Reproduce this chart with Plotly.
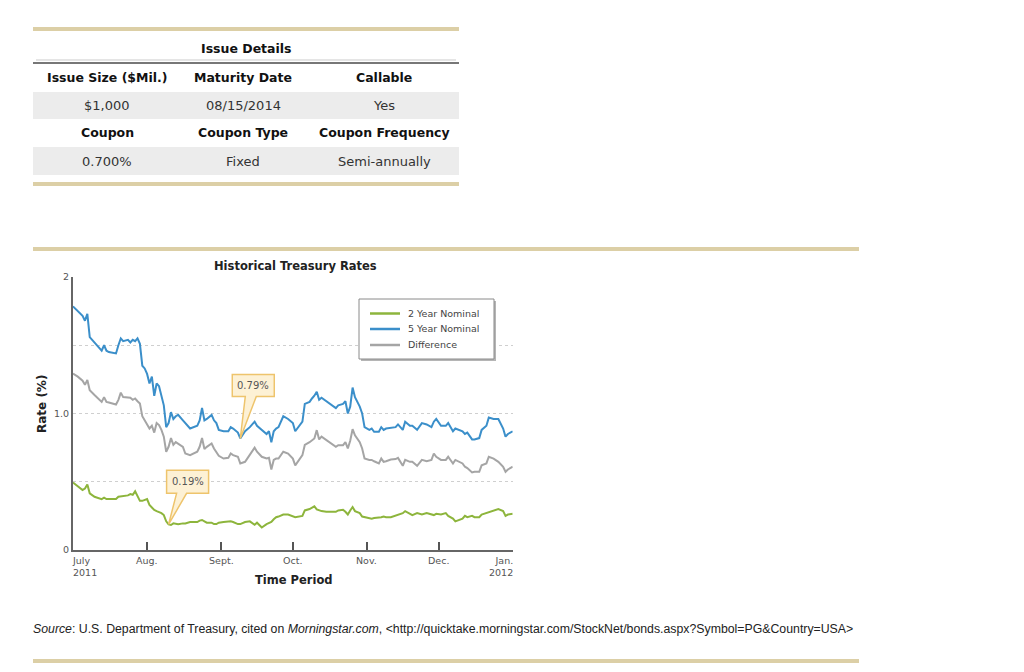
import plotly.graph_objects as go

# ---------------- data ----------------
dates = [
    "2011-07-01", "2011-07-03", "2011-07-05", "2011-07-06", "2011-07-07", "2011-07-08", "2011-07-10",
    "2011-07-13", "2011-07-14", "2011-07-15", "2011-07-16", "2011-07-19", "2011-07-20", "2011-07-21",
    "2011-07-22", "2011-07-24", "2011-07-25", "2011-07-26", "2011-07-27", "2011-07-28", "2011-07-29",
    "2011-07-30", "2011-07-31",
    "2011-08-01", "2011-08-02", "2011-08-03", "2011-08-04", "2011-08-05", "2011-08-06", "2011-08-07",
    "2011-08-08", "2011-08-09", "2011-08-10", "2011-08-11", "2011-08-12", "2011-08-13", "2011-08-14",
    "2011-08-16", "2011-08-17", "2011-08-19", "2011-08-22", "2011-08-23", "2011-08-24", "2011-08-25",
    "2011-08-26", "2011-08-28", "2011-08-29", "2011-08-30", "2011-08-31",
    "2011-09-02", "2011-09-04", "2011-09-05", "2011-09-06", "2011-09-08", "2011-09-09", "2011-09-11",
    "2011-09-13", "2011-09-15", "2011-09-16", "2011-09-18", "2011-09-20", "2011-09-21", "2011-09-22",
    "2011-09-23", "2011-09-24", "2011-09-25", "2011-09-27", "2011-09-29",
    "2011-10-01", "2011-10-02", "2011-10-05", "2011-10-06", "2011-10-08", "2011-10-09", "2011-10-10",
    "2011-10-11", "2011-10-12", "2011-10-13", "2011-10-15", "2011-10-17", "2011-10-19", "2011-10-20",
    "2011-10-22", "2011-10-23", "2011-10-24", "2011-10-25", "2011-10-26", "2011-10-27", "2011-10-29",
    "2011-10-30", "2011-10-31",
    "2011-11-02", "2011-11-03", "2011-11-04", "2011-11-06", "2011-11-07", "2011-11-08", "2011-11-09",
    "2011-11-11", "2011-11-13", "2011-11-14", "2011-11-16", "2011-11-17", "2011-11-19", "2011-11-20",
    "2011-11-22", "2011-11-24", "2011-11-26", "2011-11-28", "2011-11-29", "2011-11-30",
    "2011-12-02", "2011-12-04", "2011-12-05", "2011-12-07", "2011-12-08", "2011-12-11", "2011-12-12",
    "2011-12-13", "2011-12-15", "2011-12-16", "2011-12-18", "2011-12-19", "2011-12-21", "2011-12-22",
    "2011-12-24", "2011-12-26", "2011-12-28", "2011-12-29", "2011-12-30",
    "2012-01-01",
]

two_year = [
    0.495, 0.465, 0.44, 0.45, 0.48, 0.415, 0.39, 0.373, 0.383, 0.373,
    0.373, 0.373, 0.39, 0.393, 0.393, 0.40, 0.41, 0.405, 0.43, 0.40,
    0.36, 0.36, 0.366, 0.373, 0.33, 0.31, 0.293, 0.285, 0.28, 0.27,
    0.256, 0.21, 0.188, 0.183, 0.195, 0.19, 0.188, 0.195,
    0.195, 0.205, 0.205, 0.215, 0.22, 0.21, 0.20, 0.20, 0.19, 0.19,
    0.20, 0.205, 0.21, 0.21, 0.205, 0.19, 0.19, 0.205, 0.21, 0.185,
    0.20, 0.165, 0.19, 0.20, 0.205, 0.225, 0.24, 0.245, 0.26, 0.26, 0.245,
    0.24, 0.25, 0.29, 0.30, 0.31, 0.32, 0.298, 0.29, 0.285, 0.28,
    0.28, 0.28, 0.29, 0.295, 0.28, 0.26, 0.29, 0.315, 0.285, 0.27,
    0.245, 0.24, 0.235, 0.23, 0.235, 0.235, 0.24, 0.245, 0.24, 0.24,
    0.25, 0.255, 0.27,
    0.285, 0.265, 0.256, 0.27, 0.26, 0.27, 0.26, 0.256, 0.265, 0.26,
    0.27, 0.25, 0.23, 0.21, 0.23, 0.25, 0.24, 0.25, 0.24, 0.24,
    0.26, 0.27, 0.28, 0.29, 0.30, 0.285, 0.25, 0.26, 0.265,
]

five_year = [
    1.785, 1.75, 1.715, 1.68, 1.73, 1.56, 1.52, 1.46, 1.50, 1.46,
    1.45, 1.44, 1.50, 1.55, 1.53, 1.54, 1.52, 1.54, 1.53, 1.55,
    1.51, 1.35, 1.33, 1.29, 1.22, 1.27, 1.13, 1.22, 1.20, 1.13,
    1.06, 0.90, 0.93, 1.01, 0.96, 0.98, 0.99, 0.95,
    0.93, 0.89, 0.91, 0.95, 1.04, 0.95, 0.96, 0.99, 0.95, 0.93,
    0.88, 0.87, 0.87, 0.90, 0.89, 0.86, 0.817, 0.87, 0.90, 0.94,
    0.91, 0.88, 0.85, 0.87, 0.79, 0.87, 0.89, 0.90, 0.98, 0.96, 0.93,
    0.87, 0.94, 1.07, 1.085, 1.11, 1.13, 1.16, 1.10, 1.115, 1.09,
    1.066, 1.04, 1.06, 1.07, 1.09, 1.0, 1.05, 1.19, 1.12, 1.05,
    1.0, 0.90, 0.88, 0.89, 0.866, 0.866, 0.90, 0.88, 0.89, 0.895,
    0.90, 0.92, 0.88,
    0.94, 0.91, 0.91, 0.88, 0.93, 0.92, 0.90, 0.94, 0.96, 0.91,
    0.91, 0.93, 0.87, 0.89, 0.87, 0.85, 0.86, 0.81, 0.81, 0.82,
    0.88, 0.91, 0.97, 0.96, 0.96, 0.89, 0.83, 0.85, 0.87,
]

difference = [
    1.293, 1.27, 1.24, 1.21, 1.245, 1.17, 1.135, 1.085, 1.12, 1.085,
    1.08, 1.066, 1.10, 1.153, 1.12, 1.12, 1.115, 1.10, 1.11, 1.09,
    1.073, 0.98, 0.95, 0.93, 0.89, 0.91, 0.86, 0.93, 0.915, 0.88,
    0.83, 0.72, 0.756, 0.82, 0.77, 0.79, 0.78, 0.756,
    0.707, 0.695, 0.72, 0.756, 0.82, 0.74, 0.756, 0.78, 0.744, 0.72,
    0.69, 0.67, 0.675, 0.707, 0.695, 0.683, 0.634, 0.646, 0.695, 0.75,
    0.72, 0.683, 0.67, 0.675, 0.59, 0.66, 0.67, 0.67, 0.72, 0.707, 0.67,
    0.62, 0.695, 0.77, 0.79, 0.805, 0.817, 0.878, 0.81, 0.83, 0.805,
    0.78, 0.756, 0.768, 0.768, 0.79, 0.744, 0.80, 0.885, 0.84, 0.79,
    0.744, 0.67, 0.66, 0.66, 0.65, 0.634, 0.67, 0.646, 0.65, 0.663,
    0.666, 0.675, 0.617,
    0.66, 0.646, 0.646, 0.617, 0.66, 0.65, 0.66, 0.707, 0.683, 0.66,
    0.66, 0.683, 0.634, 0.66, 0.634, 0.61, 0.60, 0.568, 0.573, 0.573,
    0.62, 0.634, 0.683, 0.67, 0.646, 0.61, 0.573, 0.59, 0.61,
]

series_names = ["2 Year Nominal", "5 Year Nominal", "Difference"]

tick_dates = ["2011-07-01", "2011-08-01", "2011-09-01", "2011-10-01",
              "2011-11-01", "2011-12-01", "2012-01-01"]
tick_labels = ["July<br>2011", "Aug.", "Sept.", "Oct.", "Nov.", "Dec.", "Jan.<br>2012"]
y_tick_vals = [0, 0.5, 1.0, 1.5, 2]
y_tick_text = ["0", "", "1.0", "", "2"]

callout_79 = ("2011-09-09", "0.79%")
callout_19 = ("2011-08-10", "0.19%")

table_title = "Issue Details"
table_head_1 = ["Issue Size ($Mil.)", "Maturity Date", "Callable"]
table_vals_1 = ["$1,000", "08/15/2014", "Yes"]
table_head_2 = ["Coupon", "Coupon Type", "Coupon Frequency"]
table_vals_2 = ["0.700%", "Fixed", "Semi-annually"]

chart_title = "Historical Treasury Rates"
x_title = "Time Period"
y_title = "Rate (%)"
source_text = ("<i>Source</i>: U.S. Department of Treasury, cited on <i>Morningstar.com</i>, "
               "&lt;http://quicktake.morningstar.com/StockNet/bonds.aspx?Symbol=PG&amp;Country=USA&gt;")

# ---------------- layout helpers ----------------
W, H = 1024, 672
def px(x):
    return x / W
def py(y):
    return 1 - y / H

FONT = "DejaVu Sans"
TAN = "#dccfa6"
GREEN = "#8db53c"
BLUE = "#3b8fca"
GRAY = "#a5a5a5"
COLORS = [GREEN, BLUE, GRAY]

fig = go.Figure()
fig.add_trace(go.Scatter(x=dates, y=difference, name=series_names[2], mode="lines",
                         line=dict(color=GRAY, width=2), showlegend=False))
fig.add_trace(go.Scatter(x=dates, y=five_year, name=series_names[1], mode="lines",
                         line=dict(color=BLUE, width=2), showlegend=False))
fig.add_trace(go.Scatter(x=dates, y=two_year, name=series_names[0], mode="lines",
                         line=dict(color=GREEN, width=2), showlegend=False))

shapes = []
annotations = []

def rect(x0, y0, x1, y1, color, layer="below", line=None):
    shapes.append(dict(type="rect", xref="paper", yref="paper",
                       x0=px(x0), x1=px(x1), y0=py(y1), y1=py(y0),
                       fillcolor=color, line=line or dict(width=0), layer=layer))

def text(x, y, s, size=13, color="#222", bold=False, xanchor="center", family=FONT, angle=0):
    annotations.append(dict(xref="paper", yref="paper", x=px(x), y=py(y),
                            text=("<b>%s</b>" % s) if bold else s, showarrow=False,
                            xanchor=xanchor, yanchor="middle", textangle=angle,
                            font=dict(family=family, size=size, color=color)))

# ---- table ----
rect(33, 27, 459, 31, TAN)
text(246, 49, table_title, size=12.5, color="#111", bold=True)
rect(36, 59.5, 456, 60.5, "#cccccc")
rect(33, 62, 459, 64, "#777777")
rect(33, 92, 459, 119, "#ececec")
rect(33, 147, 459, 175, "#ececec")
rect(33, 182, 459, 186, TAN)
col_x = [107, 243, 384]
for i in range(3):
    text(col_x[i], 77, table_head_1[i], size=12.5, color="#111", bold=True)
    text(col_x[i], 105, table_vals_1[i], size=13, color="#333")
    text(col_x[i], 133, table_head_2[i], size=12.5, color="#111", bold=True)
    text(col_x[i], 161, table_vals_2[i], size=13, color="#333")

# ---- chart decorations ----
rect(33, 247, 859, 251, TAN)
rect(33, 659, 859, 663, TAN)
text(295, 266, chart_title, size=11.5, color="#222", bold=True)
text(294, 580, x_title, size=11.5, color="#222", bold=True)
text(42, 404, y_title, size=12, color="#222", bold=True, angle=-90)
annotations.append(dict(xref="paper", yref="paper", x=px(31), y=py(629), text=source_text,
                        showarrow=False, xanchor="left", yanchor="middle",
                        font=dict(family="Liberation Sans", size=12.3, color="#222")))

# ---- legend (drawn box) ----
rect(361, 301, 496, 361, "#b5b5b5", layer="above")
rect(359, 299, 494, 359, "white", layer="above", line=dict(color="#8a8a8a", width=1))
leg_y = [313.5, 329, 345]
for i in range(3):
    shapes.append(dict(type="line", xref="paper", yref="paper",
                       x0=px(370), x1=px(400), y0=py(leg_y[i]), y1=py(leg_y[i]),
                       line=dict(color=COLORS[i], width=2.5), layer="above"))
    text(406, leg_y[i], series_names[i], size=9.5, color="#444", xanchor="left")

# x tick labels
for i, (d, lab) in enumerate(zip(tick_dates, tick_labels)):
    anchor = "left" if i == 0 else ("right" if i == len(tick_dates) - 1 else "center")
    shift = -3 if i == 0 else (2 if i == len(tick_dates) - 1 else 0)
    annotations.append(dict(xref="x", yref="y", x=d, y=0, text=lab, showarrow=False,
                            xanchor=anchor, yanchor="top", yshift=-3, xshift=shift, align=anchor,
                            font=dict(family=FONT, size=9.5, color="#555")))

# callouts
def callout(date, series, label, path, cx, cy):
    idx = dates.index(date)
    val = series[idx]
    shapes.append(dict(type="path", xref="x", yref="y", xsizemode="pixel", ysizemode="pixel",
                       xanchor=date, yanchor=val, path=path,
                       fillcolor="#fdf1d5", line=dict(color="#eec46c", width=1.5), layer="above"))
    annotations.append(dict(xref="x", yref="y", x=date, y=val, text=label, showarrow=False,
                            xshift=cx, yshift=cy, xanchor="center", yanchor="middle",
                            font=dict(family=FONT, size=10, color="#555")))

callout(callout_79[0], five_year, callout_79[1],
        "M -8,42 L 5,42 L 0,0 L 16,42 L 34,42 L 34,64 L -8,64 Z", 13, 53)
callout(callout_19[0], two_year, callout_19[1],
        "M -2,31 L 8,31 L 0,0 L 18,31 L 40,31 L 40,54 L -2,54 Z", 19, 42.5)

fig.update_layout(
    width=W, height=H,
    margin=dict(l=0, r=0, t=0, b=0, autoexpand=False),
    paper_bgcolor="white", plot_bgcolor="white",
    font=dict(family=FONT),
    shapes=shapes, annotations=annotations,
    showlegend=False,
    xaxis=dict(type="date", domain=[px(73), px(512.7)],
               range=["2011-07-01", "2012-01-01"],
               tickvals=tick_dates[1:], ticks="inside", ticklen=8, tickwidth=1.5,
               tickcolor="#555", showticklabels=False, showgrid=False, automargin=False,
               showline=True, linecolor="#666", linewidth=2, zeroline=False),
    yaxis=dict(domain=[py(550), py(277)], range=[0, 2], automargin=False,
               tickvals=y_tick_vals, ticktext=y_tick_text, ticks="",
               tickfont=dict(family=FONT, size=9.5, color="#555"),
               showgrid=True, gridcolor="#cfcfcf", griddash="dot", gridwidth=1,
               showline=True, linecolor="#666", linewidth=2, zeroline=False),
)

post = ("document.body.style.margin='0';document.body.style.overflow='hidden';")
fig.write_html("out.html", config={"displayModeBar": False}, post_script=post)
